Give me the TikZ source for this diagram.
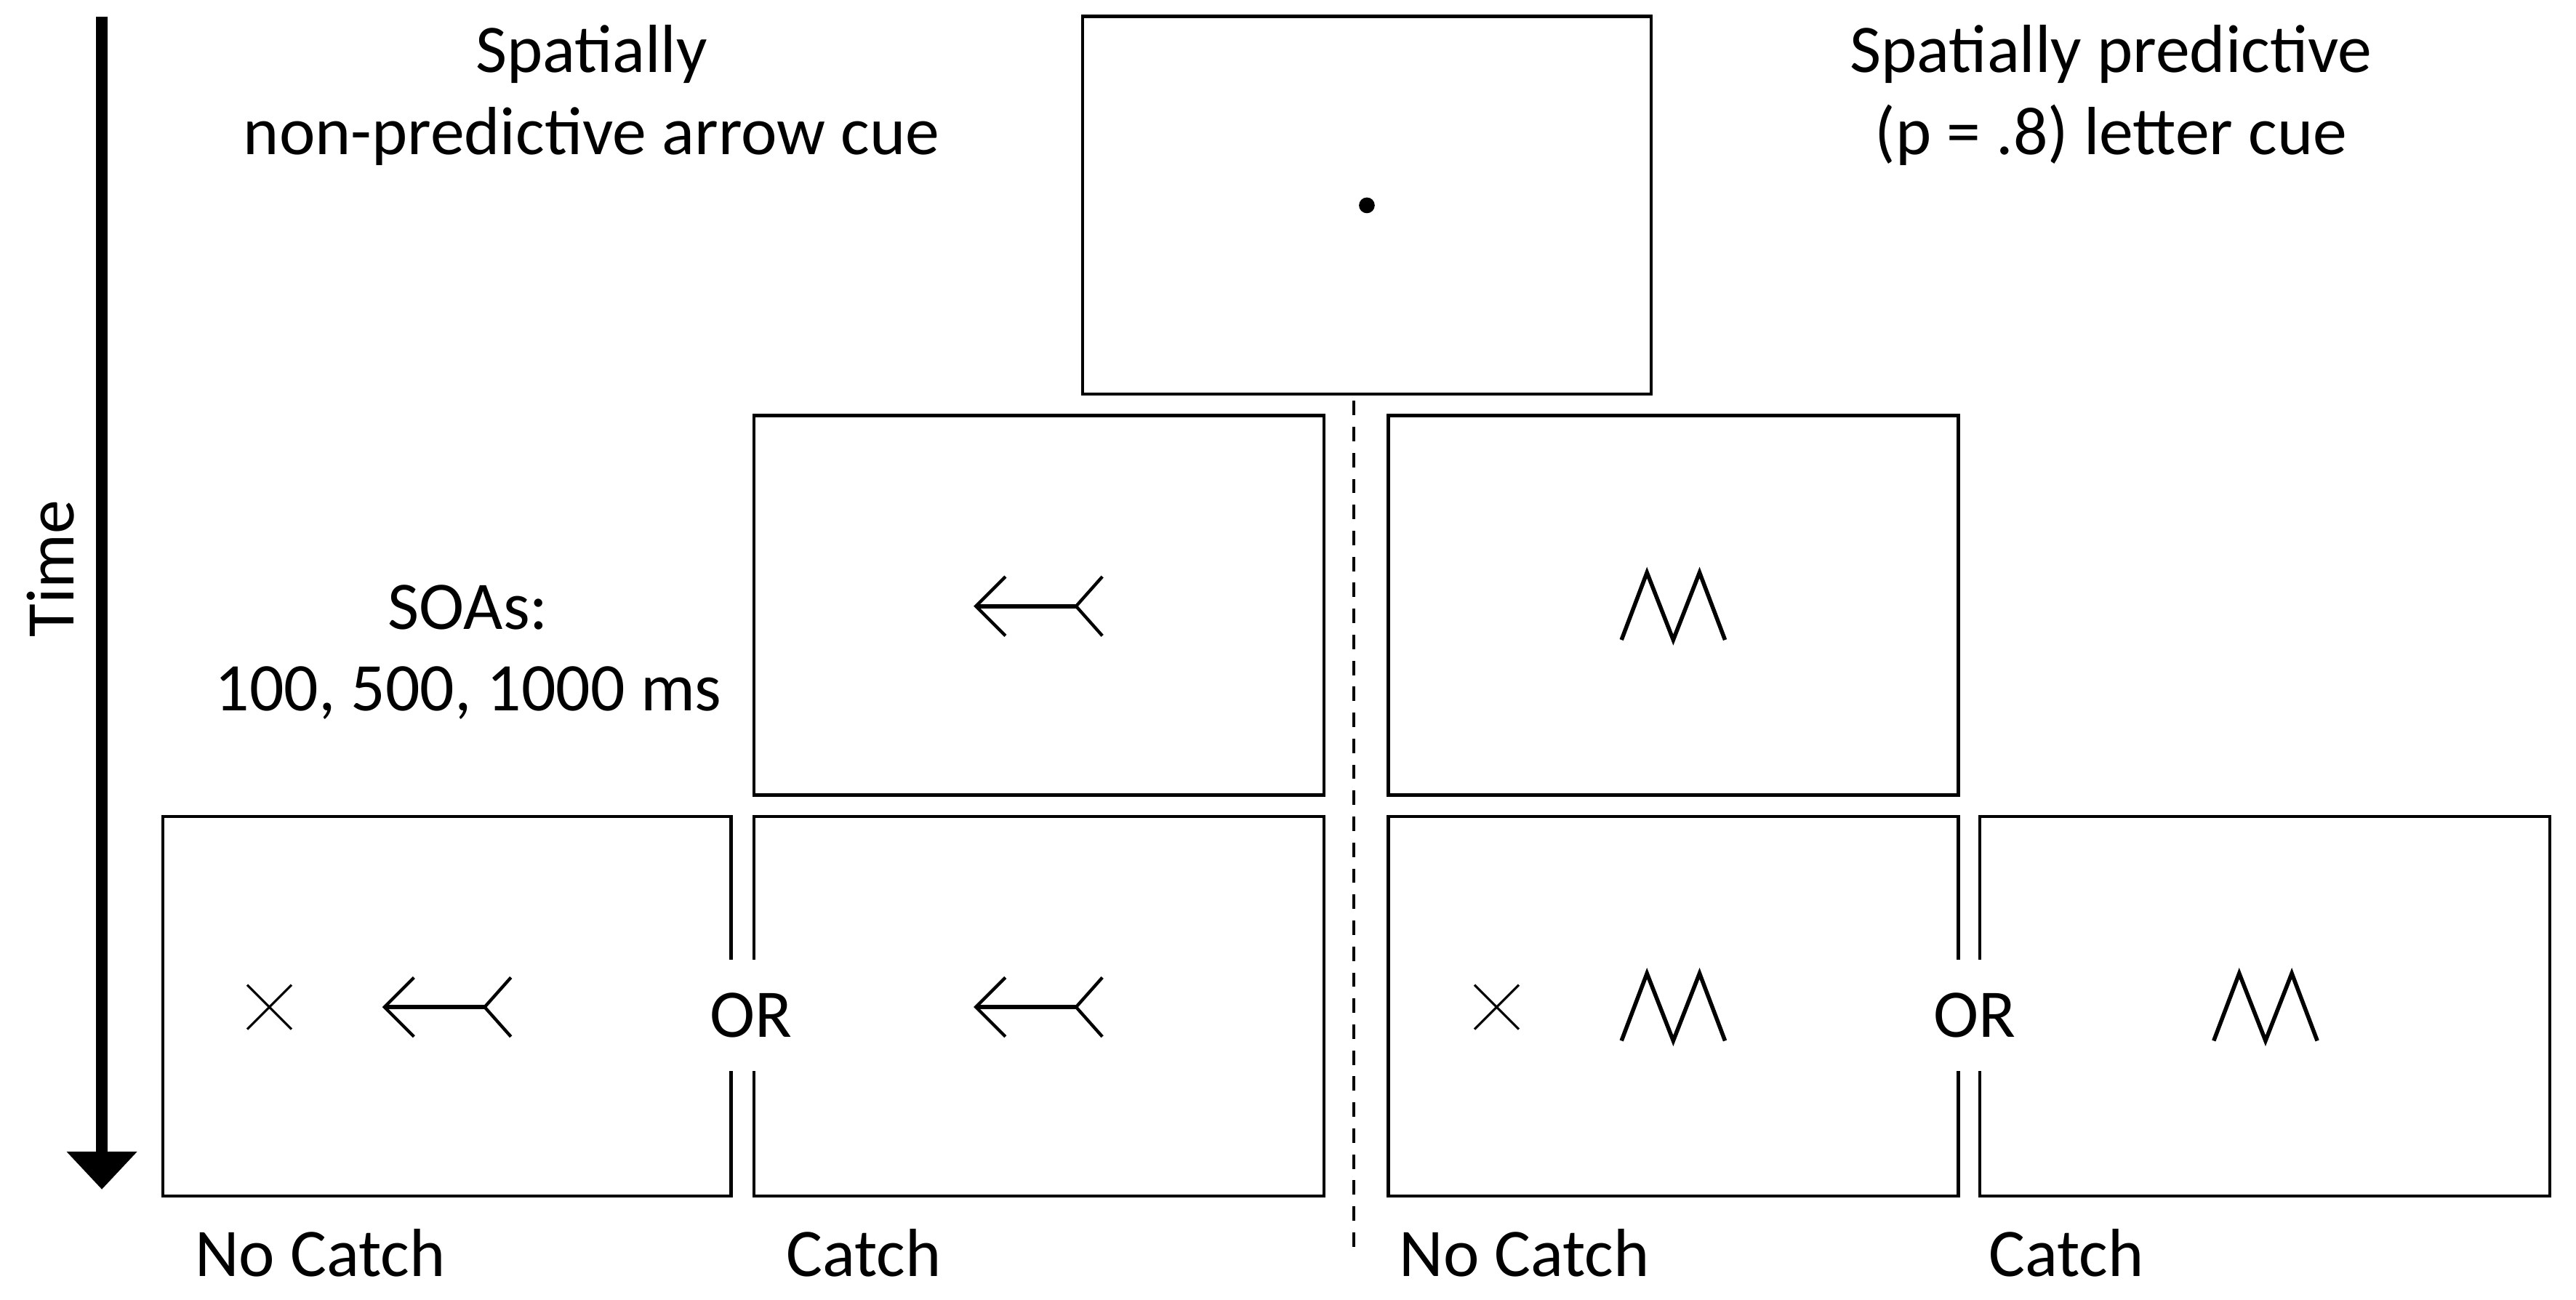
\documentclass[tikz,border=0pt]{standalone}
\usepackage{fontspec}
\setmainfont{Carlito}
\usetikzlibrary{arrows.meta}

\tikzset{
  arrowcue/.pic={
    \draw[line width=0.55pt] (-20.5,-18) -- (-38.5,0) -- (-20.5,18);
    \draw[line width=0.8pt] (-38.5,0) -- (22.5,0);
    \draw[line width=0.55pt] (38.5,-18) -- (22.5,0) -- (38.5,18);
  },
  lettercue/.pic={
    \draw[line width=0.7pt] (-31.5,20.5) -- (-16,-20.5) -- (0,20.5) -- (16,-20.5) -- (31.5,20.5);
  },
  catchx/.pic={
    \draw[line width=0.4pt] (-13.5,-13.5) -- (13.5,13.5) (-13.5,13.5) -- (13.5,-13.5);
  }
}

\begin{document}
\begin{tikzpicture}[x=0.1mm,y=-0.1mm,
  screen/.style={draw,line width=0.55pt},
  every node/.style={font=\fontsize{11.8}{14.2}\selectfont},
  heading/.style={align=center},
  condlabel/.style={anchor=base west,inner sep=0pt},
  ortext/.style={fill=white,inner xsep=1pt,inner ysep=0pt,minimum height=6.8mm}]
\useasboundingbox (0,0) rectangle (1568,791);

% time axis
\coordinate (tstart) at (62,10);
\coordinate (tend) at (62,724);
\draw[line width=0.74mm,-{Triangle[width=4.15mm,length=2.3mm]}] (tstart) -- (tend);
\node[rotate=90] (time) at (31,346) {Time};

% fixation
\draw[screen] (659,10) rectangle (1005,240);
\fill (832,125) circle (4.8);

\node[heading] (arrowhead) at (360,58) {Spatially\\non-predictive arrow cue};
\node[heading] (letterhead) at (1285,58) {Spatially predictive\\(p = .8) letter cue};
\node[heading] (soa) at (285,397) {SOAs:\\100, 500, 1000 ms};

% cues
\draw[screen] (459,253) rectangle (806,484);
\draw[screen] (845,253) rectangle (1192,484);
\pic at (632.5,369) {arrowcue};
\pic at (1018.5,369) {lettercue};

% targets
\draw[screen] (99,497) rectangle (445,728);
\draw[screen] (459,497) rectangle (806,728);
\draw[screen] (845,497) rectangle (1192,728);
\draw[screen] (1205,497) rectangle (1552,728);
\pic at (164,613) {catchx};
\pic at (272.5,613) {arrowcue};
\pic at (632.5,613) {arrowcue};
\pic at (911,613) {catchx};
\pic at (1018.5,613) {lettercue};
\pic at (1379,613) {lettercue};
\node[ortext] (orleft) at (457,618) {OR};
\node[ortext] (orright) at (1202,618) {OR};

\node[condlabel] (nocatchA) at (118,777) {No Catch};
\node[condlabel] (catchA) at (478,777) {Catch};
\node[condlabel] (nocatchB) at (851,777) {No Catch};
\node[condlabel] (catchB) at (1210,777) {Catch};

\coordinate (dtop) at (824,244);
\coordinate (dbot) at (824,765);
\draw[line width=0.5pt,dash pattern=on 2.5pt off 2pt] (dtop) -- (dbot);
\end{tikzpicture}
\end{document}
